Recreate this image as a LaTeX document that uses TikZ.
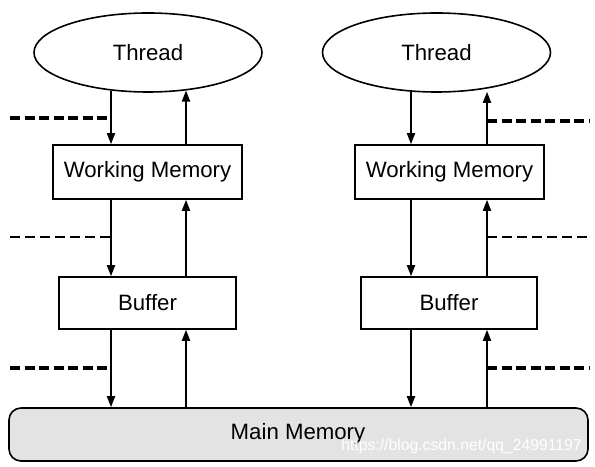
\documentclass[tikz,border=0pt]{standalone}
\usepackage{fontspec}
\setmainfont{Liberation Sans}
\usetikzlibrary{shapes.geometric,arrows.meta}
\begin{document}
\begin{tikzpicture}[x=1bp,y=-1bp,
  lbl/.style={font=\fontsize{22.3}{25}\selectfont},
  thread/.style={ellipse,draw,line width=1.6bp,minimum width=228bp,minimum height=79bp,inner sep=0pt,lbl},
  membox/.style={rectangle,draw,line width=1.6bp,inner sep=0pt,lbl},
  arr/.style={line width=1.8bp,-{Triangle[length=11bp,width=8bp]}},
  thickdash/.style={line width=3.2bp,dash pattern=on 10bp off 4.5bp},
  thindash/.style={line width=1.6bp,dash pattern=on 10bp off 5bp}]
\useasboundingbox (0,0) rectangle (595,467);
% threads
\node[thread] (tL) at (148,52.5) {Thread};
\node[thread] (tR) at (436.5,52.5) {Thread};
% working memories
\node[membox,minimum width=189bp,minimum height=54bp] (wL) at (147.5,172) {Working Memory};
\node[membox,minimum width=189bp,minimum height=54bp] (wR) at (449.5,172) {Working Memory};
% buffers
\node[membox,minimum width=177bp,minimum height=52bp] (bL) at (147.5,303) {Buffer};
\node[membox,minimum width=176bp,minimum height=52bp] (bR) at (449,303) {Buffer};
% main memory
\node[rectangle,draw,line width=1.6bp,rounded corners=12bp,fill=black!11,
      minimum width=579bp,minimum height=53bp,lbl] (mm) at (298.5,434.5) {};
\node[lbl] (mmt) at (298,433.5) {Main Memory};
\node[text=white,font=\fontsize{15.8}{18}\selectfont] (wm) at (461.5,446) {https://blog.csdn.net/qq\_24991197};
% arrow x positions
\coordinate (xa) at (111,0);
\coordinate (xb) at (186,0);
\coordinate (xc) at (411,0);
\coordinate (xd) at (487,0);
% left column arrows
\draw[arr] (xa |- tL.225.3) -- (xa |- wL.north);
\draw[arr] (xb |- wL.north) -- (xb |- tL.315.6);
\draw[arr] (xa |- wL.south) -- (xa |- bL.north);
\draw[arr] (xb |- bL.north) -- (xb |- wL.south);
\draw[arr] (xa |- bL.south) -- (xa |- mm.north);
\draw[arr] (xb |- mm.north) -- (xb |- bL.south);
% right column arrows
\draw[arr] (xc |- tR.236.5) -- (xc |- wR.north);
\draw[arr] (xd |- wR.north) -- ([yshift=-3bp]xd |- tR.324.9);
\draw[arr] (xc |- wR.south) -- (xc |- bR.north);
\draw[arr] (xd |- bR.north) -- (xd |- wR.south);
\draw[arr] (xc |- bR.south) -- (xc |- mm.north);
\draw[arr] (xd |- mm.north) -- (xd |- bR.south);
% dashed lines, left
\coordinate (dl1) at (10,118);
\coordinate (dl2) at (10,237);
\coordinate (dl3) at (10,368);
\draw[thickdash] (dl1) -- (xa |- dl1);
\draw[thindash] (dl2) -- (xa |- dl2);
\draw[thickdash] (dl3) -- (xa |- dl3);
% dashed lines, right
\coordinate (dr1) at (590,121);
\coordinate (dr2) at (590,237);
\coordinate (dr3) at (590,368);
\draw[thickdash] (xd |- dr1) -- (dr1);
\draw[thindash] (xd |- dr2) -- (dr2);
\draw[thickdash] (xd |- dr3) -- (dr3);
\end{tikzpicture}
\end{document}
